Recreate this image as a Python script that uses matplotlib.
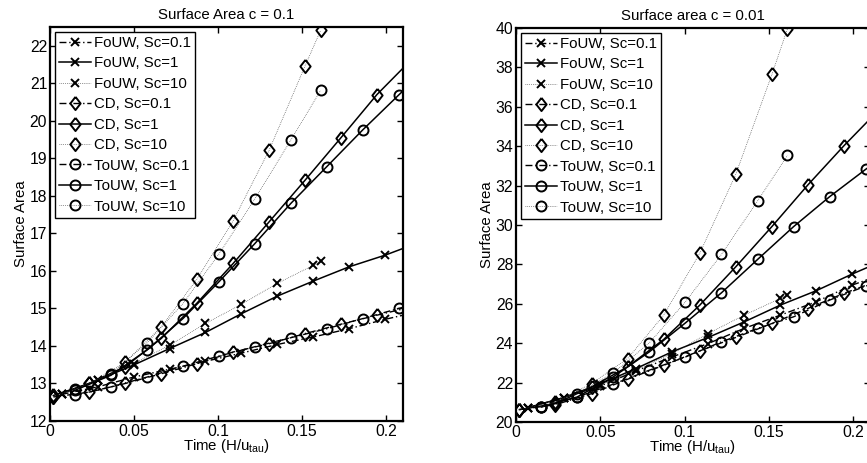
"""Surface area growth for FoUW / CD / ToUW schemes at two concentrations."""

import matplotlib

matplotlib.use("Agg")
import matplotlib.pyplot as plt

plt.rcParams["font.family"] = ["Liberation Sans", "DejaVu Sans"]
plt.rcParams["mathtext.default"] = "regular"

# sample times of each scheme (last one sits just past the axis edge)
T_FOUW = [0.007, 0.0284, 0.0497, 0.0711, 0.0925, 0.1139, 0.1353, 0.1567, 0.178, 0.1994, 0.2208]
T_CD = [0.002, 0.0234, 0.0448, 0.0662, 0.0876, 0.109, 0.1304, 0.1518, 0.1731, 0.1945, 0.2159]
T_TOUW = [0.0149, 0.0363, 0.0577, 0.0791, 0.1005, 0.1219, 0.1433, 0.1647, 0.1861, 0.2075, 0.2289]
# Sc=10 runs stop early, at t = 0.161
T_FOUW_SC10 = [0.007, 0.0284, 0.0497, 0.0711, 0.0925, 0.1139, 0.1353, 0.1567, 0.161]
T_CD_SC10 = [0.002, 0.0234, 0.0448, 0.0662, 0.0876, 0.109, 0.1304, 0.1518, 0.161]
T_TOUW_SC10 = [0.0149, 0.0363, 0.0577, 0.0791, 0.1005, 0.1219, 0.1433, 0.161]

# c = 0.1
A1_FOUW_01 = [12.71, 12.91, 13.17, 13.38, 13.59, 13.81, 14.04, 14.24, 14.46, 14.71, 14.93]
A1_FOUW_1 = [12.73, 13.09, 13.49, 13.93, 14.36, 14.86, 15.33, 15.73, 16.11, 16.42, 16.78]
A1_FOUW_10 = [12.73, 13.08, 13.53, 14.02, 14.6, 15.11, 15.67, 16.15, 16.26]
A1_CD_01 = [12.64, 12.77, 13.0, 13.26, 13.53, 13.84, 14.06, 14.33, 14.58, 14.82, 15.05]
A1_CD_1 = [12.68, 13.0, 13.45, 14.2, 15.15, 16.2, 17.31, 18.42, 19.55, 20.7, 21.67]
A1_CD_10 = [12.65, 13.0, 13.57, 14.51, 15.79, 17.34, 19.22, 21.47, 22.41]
A1_TOUW_01 = [12.68, 12.91, 13.17, 13.46, 13.73, 13.98, 14.22, 14.46, 14.73, 15.0, 15.25]
A1_TOUW_1 = [12.82, 13.22, 13.89, 14.73, 15.71, 16.73, 17.8, 18.78, 19.76, 20.69, 21.6]
A1_TOUW_10 = [12.84, 13.26, 14.08, 15.13, 16.45, 17.92, 19.49, 20.81]

# c = 0.01
A2_FOUW_01 = [20.73, 21.24, 21.81, 22.59, 23.3, 23.98, 24.75, 25.42, 26.1, 26.95, 27.6]
A2_FOUW_1 = [20.73, 21.24, 21.92, 22.71, 23.56, 24.29, 25.08, 25.93, 26.66, 27.51, 28.3]
A2_FOUW_10 = [20.73, 21.24, 21.86, 22.63, 23.47, 24.49, 25.42, 26.27, 26.44]
A2_CD_01 = [20.63, 20.88, 21.44, 22.17, 22.88, 23.61, 24.29, 25.0, 25.76, 26.53, 27.2]
A2_CD_1 = [20.63, 20.93, 21.78, 22.8, 24.19, 25.93, 27.88, 29.92, 32.03, 34.02, 35.9]
A2_CD_10 = [20.63, 21.0, 21.95, 23.22, 25.42, 28.56, 32.58, 37.64, 39.95]
A2_TOUW_01 = [20.76, 21.27, 21.92, 22.63, 23.3, 24.07, 24.75, 25.34, 26.19, 26.9, 27.5]
A2_TOUW_1 = [20.76, 21.27, 22.29, 23.56, 25.03, 26.56, 28.25, 29.92, 31.44, 32.83, 34.1]
A2_TOUW_10 = [20.76, 21.44, 22.49, 24.02, 26.1, 28.51, 31.22, 33.53]

LABELS = ["FoUW, Sc=0.1", "FoUW, Sc=1", "FoUW, Sc=10",
          "CD, Sc=0.1", "CD, Sc=1", "CD, Sc=10",
          "ToUW, Sc=0.1", "ToUW, Sc=1", "ToUW, Sc=10"]
X_TICKS = [0, 0.05, 0.1, 0.15, 0.2]
X_TICK_LABELS = ["0", "0.05", "0.1", "0.15", "0.2"]

# matlab-like diamond, a bit wider than mpl's thin one
DIAMOND = [(0, 1), (0.78, 0), (0, -1), (-0.78, 0), (0, 1)]
FS = 10.8


def style_for(label):
    if "Sc=0.1" in label:
        style = dict(color="black", lw=1.0, dashes=(5, 2, 1, 2))
    elif "Sc=10" in label:
        style = dict(color="0.2", lw=0.5, linestyle=(0, (1, 1.7)))
    else:
        style = dict(color="black", lw=1.1, linestyle="-")
    if label.startswith("FoUW"):
        style.update(marker="x", ms=5.5, mew=1.4, mec="black")
    elif label.startswith("CD"):
        style.update(marker=DIAMOND, ms=9.5, mew=1.4, mfc="none", mec="black")
    else:
        style.update(marker="o", ms=7.2, mew=1.4, mfc="none", mec="black")
    return style


def draw_panel(ax, series, title, ylim, yticks):
    for label, (t, a) in zip(LABELS, series):
        ax.plot(t, a, label=label, **style_for(label))
    ax.set_xlim(0, 0.21)
    ax.set_ylim(*ylim)
    ax.set_xticks(X_TICKS)
    ax.set_xticklabels(X_TICK_LABELS)
    ax.set_yticks(yticks)
    ax.tick_params(direction="in", top=True, right=True, length=4, width=1.0,
                   labelsize=11.3, pad=2)
    for spine in ax.spines.values():
        spine.set_linewidth(1.6)
    ax.set_title(title, fontsize=FS, pad=6)
    ax.set_xlabel("Time (H/u$_{tau}$)", fontsize=FS, labelpad=-1)
    ax.set_ylabel("Surface Area", fontsize=FS, labelpad=1)
    leg = ax.legend(loc="upper left", fontsize=FS, numpoints=1, handlelength=2.1,
                    handletextpad=0.2, labelspacing=0.43, borderpad=0.3,
                    borderaxespad=0.3, fancybox=False, framealpha=1,
                    edgecolor="black")
    leg.get_frame().set_linewidth(1.0)


def main():
    fig = plt.figure(figsize=(8.67, 4.63), dpi=100)
    ax1 = fig.add_axes([50 / 867, 42 / 463, 353 / 867, 394 / 463])
    ax2 = fig.add_axes([516 / 867, 41 / 463, 354 / 867, 394 / 463])

    left = [(T_FOUW, A1_FOUW_01), (T_FOUW, A1_FOUW_1), (T_FOUW_SC10, A1_FOUW_10),
            (T_CD, A1_CD_01), (T_CD, A1_CD_1), (T_CD_SC10, A1_CD_10),
            (T_TOUW, A1_TOUW_01), (T_TOUW, A1_TOUW_1), (T_TOUW_SC10, A1_TOUW_10)]
    right = [(T_FOUW, A2_FOUW_01), (T_FOUW, A2_FOUW_1), (T_FOUW_SC10, A2_FOUW_10),
             (T_CD, A2_CD_01), (T_CD, A2_CD_1), (T_CD_SC10, A2_CD_10),
             (T_TOUW, A2_TOUW_01), (T_TOUW, A2_TOUW_1), (T_TOUW_SC10, A2_TOUW_10)]

    draw_panel(ax1, left, "Surface Area c = 0.1", (12, 22.5), range(12, 23))
    draw_panel(ax2, right, "Surface area c = 0.01", (20, 40), range(20, 41, 2))

    fig.savefig("out.png", dpi=100)
    plt.close(fig)


if __name__ == "__main__":
    main()
